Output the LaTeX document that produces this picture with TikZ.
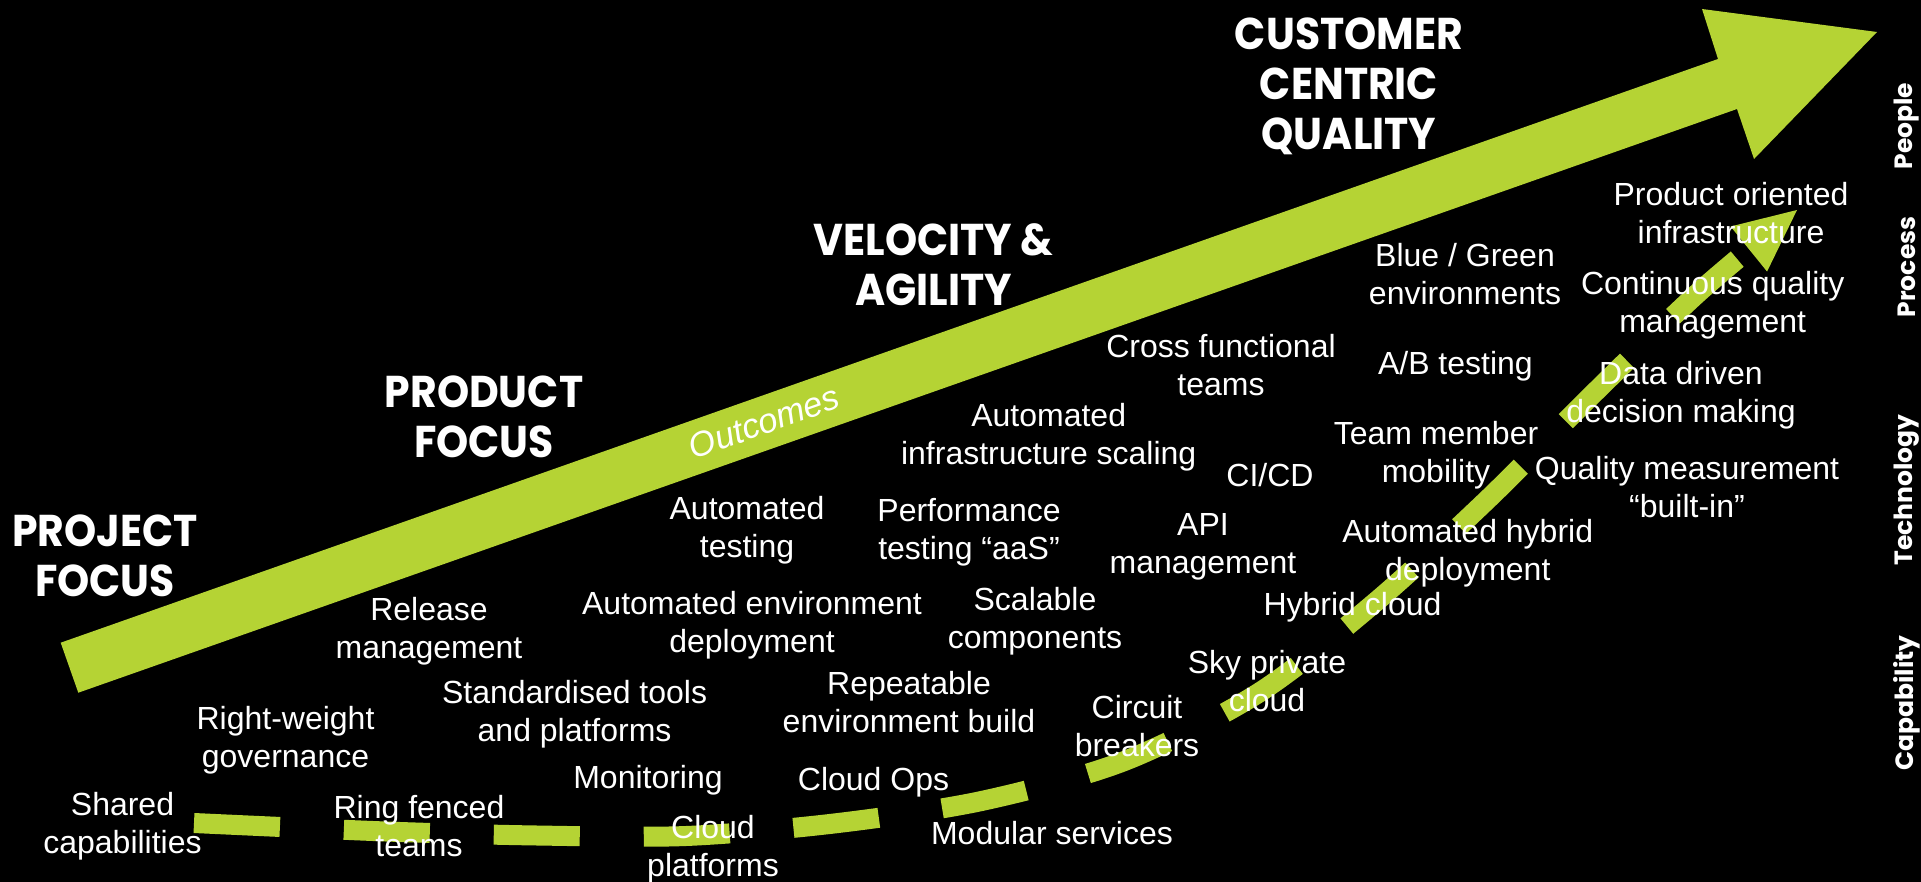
\documentclass[tikz,border=0pt]{standalone}
\usepackage{fontspec}
\setmainfont{Liberation Sans}
\newfontfamily\headfont[FakeStretch=0.92]{Poppins}
\newfontfamily\layerface{Poppins}
\usetikzlibrary{arrows.meta}

\definecolor{arrowgreen}{RGB}{181,211,52}
\newcommand{\itemfont}{\fontsize{32}{38}\selectfont}
\newcommand{\stagefont}{\headfont\bfseries\fontsize{44.5}{50}\selectfont}
\newcommand{\layerfont}{\layerface\bfseries\fontsize{25}{30}\selectfont}
\newcommand{\outcomefont}{\itshape\fontsize{34.5}{40}\selectfont}

\begin{document}
\begin{tikzpicture}[
    x=1pt, y=-1pt,
    stage/.style={text=white, font=\stagefont, align=center, inner sep=0pt},
    item/.style={text=white, font=\itemfont, align=center, inner sep=0pt},
    layer/.style={text=white, font=\layerfont, rotate=90, inner sep=0pt},
    bigarrow/.style={fill=arrowgreen},
    roadmap/.style={draw=arrowgreen, line width=20pt, dash pattern=on 86pt off 64pt,
        -{Triangle[length=62pt, width=58pt, line width=0pt]}}
]

% Background
\fill[black] (0,0) rectangle (1921,882);
\useasboundingbox (0,0) rectangle (1921,882);

% Main arrow
\fill[bigarrow] (60.7,642.7) -- (1718,59) -- (1702,9) -- (1877,32)
    -- (1754,159) -- (1737,109) -- (78.3,692.7) -- cycle;
\node[item, font=\outcomefont, rotate=19.4] (outcomes) at (764,422) {Outcomes};

% Roadmap
\draw[roadmap] plot[smooth, tension=0.5] coordinates {(194,823) (386,831.5) (537,835.5)
    (686,836) (834,823.5) (981.5,801) (1124.5,761) (1258.5,693) (1375,602.5)
    (1487,500) (1591,396) (1699,292) (1797,210)};

% Stages
\node[stage] (project_focus) at (105,556) {PROJECT\\FOCUS};
\node[stage] (product_focus) at (484,417) {PRODUCT\\FOCUS};
\node[stage] (velocity) at (933.5,265) {VELOCITY \&\\AGILITY};
\node[stage] (customer) at (1349,86) {CUSTOMER\\CENTRIC\\QUALITY};

% Project focus items
\node[item] (shared_cap) at (122.5,826) {Shared\\capabilities};
\node[item] (right_weight) at (285.5,740) {Right-weight\\governance};
\node[item] (ring_fenced) at (419,826) {Ring fenced\\teams};
\node[item] (release_mgmt) at (429,631) {Release\\management};
\node[item] (std_tools) at (574.6,714) {Standardised tools\\and platforms};
\node[item] (monitoring) at (648,780) {Monitoring};
\node[item] (cloud_platforms) at (713,849) {Cloud\\platforms};

% Product focus items
\node[item] (auto_testing) at (747,530) {Automated\\testing};
\node[item] (auto_env) at (752,625) {Automated environment\\deployment};
\node[item] (repeat_env) at (909,702) {Repeatable\\environment build};
\node[item] (cloud_ops) at (873.5,782.5) {Cloud Ops};
\node[item] (modular) at (1052,833) {Modular services};
\node[item] (perf_testing) at (969,532) {Performance\\testing “aaS”};
\node[item] (auto_scaling) at (1048.7,437.5) {Automated\\infrastructure scaling};
\node[item] (scalable) at (1035,621.5) {Scalable\\components};
\node[item] (circuit) at (1137,726) {Circuit\\breakers};

% Velocity items
\node[item] (cross_teams) at (1221,365.5) {Cross functional\\teams};
\node[item] (cicd) at (1270,475) {CI/CD};
\node[item] (api_mgmt) at (1203,546.8) {API\\management};
\node[item] (sky_cloud) at (1267,681.5) {Sky private\\cloud};
\node[item] (hybrid_cloud) at (1352.5,607.4) {Hybrid cloud};
\node[item] (blue_green) at (1465,274) {Blue / Green\\environments};
\node[item] (ab_testing) at (1455.4,366) {A/B testing};
\node[item] (mobility) at (1436,455.5) {Team member\\mobility};
\node[item] (auto_hybrid) at (1467.7,553.5) {Automated hybrid\\deployment};

% Customer centric items
\node[item] (product_infra) at (1731,213) {Product oriented\\infrastructure};
\node[item] (cont_quality) at (1712.7,304.8) {Continuous quality\\management};
\node[item] (data_driven) at (1681,395.5) {Data driven\\decision making};
\node[item] (quality_built) at (1687,487) {Quality measurement\\“built-in”};

% Layers
\node[layer] (people) at (1907,126) {People};
\node[layer] (process) at (1907,267) {Process};
\node[layer] (technology) at (1907,490) {Technology};
\node[layer] (capability) at (1907,703) {Capability};

\end{tikzpicture}
\end{document}
